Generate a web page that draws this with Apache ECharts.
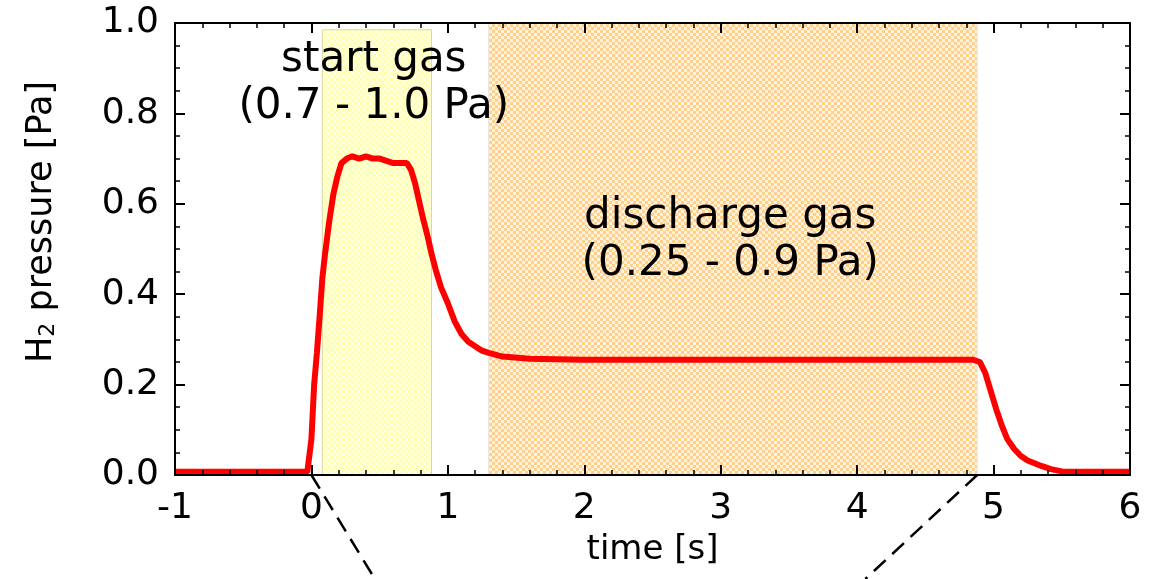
<!DOCTYPE html>
<html>
<head>
<meta charset="utf-8">
<script src="https://cdn.jsdelivr.net/npm/echarts@6/dist/echarts.min.js"></script>
<style>
  html, body { margin: 0; padding: 0; background: #fff; }
  #chart { width: 1166px; height: 579px; }
</style>
</head>
<body>
<div id="chart"></div>
<script>
// H2 pressure trace
var time = [-1.0, -0.8, -0.6, -0.4, -0.2, -0.03, 0.0, 0.02, 0.04, 0.06, 0.08, 0.1, 0.13, 0.16, 0.19, 0.22, 0.26, 0.3, 0.35, 0.4, 0.45, 0.5, 0.55, 0.6, 0.65, 0.7, 0.73, 0.76, 0.79, 0.82, 0.85, 0.88, 0.91, 0.95, 1.0, 1.05, 1.1, 1.15, 1.2, 1.25, 1.3, 1.4, 1.6, 2.0, 2.5, 3.0, 3.5, 4.0, 4.5, 4.85, 4.9, 4.94, 4.98, 5.02, 5.06, 5.1, 5.15, 5.2, 5.25, 5.3, 5.35, 5.42, 5.5, 5.7, 6.0];
var pressure = [0.007, 0.007, 0.007, 0.007, 0.007, 0.007, 0.08, 0.2, 0.27, 0.35, 0.435, 0.49, 0.56, 0.62, 0.66, 0.69, 0.7, 0.705, 0.7, 0.705, 0.7, 0.7, 0.695, 0.69, 0.69, 0.69, 0.675, 0.645, 0.605, 0.565, 0.53, 0.49, 0.455, 0.415, 0.38, 0.34, 0.312, 0.295, 0.285, 0.275, 0.27, 0.262, 0.257, 0.255, 0.255, 0.255, 0.255, 0.255, 0.255, 0.255, 0.25, 0.225, 0.185, 0.145, 0.11, 0.08, 0.058, 0.042, 0.032, 0.026, 0.02, 0.013, 0.008, 0.007, 0.007];

// shaded gas phases [x0, x1, yTop]
var startGas = [0.08, 0.88, 0.985];
var dischargeGas = [1.3, 4.88, 1.0];

// annotation texts [x, y, text]
var notes = [
  [0.457, 0.867, 'start gas\n(0.7 - 1.0 Pa)'],
  [3.07, 0.518, 'discharge gas\n(0.25 - 0.9 Pa)']
];

// zoom guide lines to the panel below
var guideLeft = [[0, 0], [0.465, -0.23]];
var guideRight = [[4.88, 0], [4.06, -0.23]];

var FONT = 'DejaVu Sans';

function checker(c1, c2) {
  var cv = document.createElement('canvas');
  cv.width = 6; cv.height = 6;
  var ctx = cv.getContext('2d');
  ctx.fillStyle = c2;
  ctx.fillRect(0, 0, 6, 6);
  ctx.fillStyle = c1;
  ctx.fillRect(0, 0, 3, 3);
  ctx.fillRect(3, 3, 3, 3);
  return { image: cv, repeat: 'repeat' };
}

var axisCommon = {
  type: 'value',
  z: 10,
  axisLine: { show: true, onZero: false, lineStyle: { color: '#000', width: 2 } },
  axisTick: { show: true, inside: true, length: 10, lineStyle: { color: '#000', width: 2 } },
  minorTick: { show: true, length: 5, lineStyle: { color: '#000', width: 1.5 } },
  splitLine: { show: false }
};

var chart = echarts.init(document.getElementById('chart'));

var option = {
  animation: false,
  grid: { left: 175, right: 36, top: 23, bottom: 104 },
  xAxis: [
    Object.assign({}, axisCommon, {
      min: -1, max: 6, interval: 1,
      minorTick: Object.assign({}, axisCommon.minorTick, { splitNumber: 5 }),
      axisLabel: { color: '#000', fontFamily: FONT, fontSize: 36, margin: 16 },
      name: 'time [s]',
      nameLocation: 'middle',
      nameGap: 58,
      nameTextStyle: { color: '#000', fontFamily: FONT, fontSize: 34 }
    }),
    Object.assign({}, axisCommon, {
      position: 'top',
      min: -1, max: 6, interval: 1,
      minorTick: Object.assign({}, axisCommon.minorTick, { splitNumber: 5 }),
      axisLabel: { show: false }
    })
  ],
  yAxis: [
    Object.assign({}, axisCommon, {
      min: 0, max: 1, interval: 0.2,
      minorTick: Object.assign({}, axisCommon.minorTick, { splitNumber: 4 }),
      axisLabel: {
        color: '#000', fontFamily: FONT, fontSize: 36, margin: 16,
        formatter: function (v) { return v.toFixed(1); }
      },
      name: '{a|H}{b|2}{a| pressure [Pa]}',
      nameLocation: 'middle',
      nameGap: 116,
      nameTextStyle: {
        color: '#000',
        padding: [0, 0, 0, 54],
        rich: {
          a: { fontFamily: FONT, fontSize: 35, color: '#000' },
          b: { fontFamily: FONT, fontSize: 22, color: '#000', verticalAlign: 'bottom' }
        }
      }
    }),
    Object.assign({}, axisCommon, {
      position: 'right',
      min: 0, max: 1, interval: 0.2,
      minorTick: Object.assign({}, axisCommon.minorTick, { splitNumber: 4 }),
      axisLabel: { show: false }
    })
  ],
  series: [
    {
      // shaded phases
      type: 'line',
      z: 1,
      data: [],
      markArea: {
        silent: true,
        data: [
          [
            { coord: [startGas[0], 0], itemStyle: { color: checker('#ffffb4', '#ffffe2'), borderColor: '#d8d8a0', borderWidth: 1 } },
            { coord: [startGas[1], startGas[2]] }
          ],
          [
            { coord: [dischargeGas[0], 0], itemStyle: { color: checker('#ffcf8c', '#fff2de'), borderColor: '#e8e0d8', borderWidth: 1 } },
            { coord: [dischargeGas[1], dischargeGas[2]] }
          ]
        ]
      }
    },
    {
      name: 'H2 pressure',
      type: 'line',
      z: 5,
      showSymbol: false,
      symbol: 'none',
      lineStyle: { color: '#ff0000', width: 6 },
      data: time.map(function (t, i) { return [t, pressure[i]]; })
    },
    {
      type: 'line',
      z: 5,
      clip: false,
      symbol: 'none',
      lineStyle: { color: '#000', width: 2.5, type: [16, 9] },
      data: guideLeft
    },
    {
      type: 'line',
      z: 5,
      clip: false,
      symbol: 'none',
      lineStyle: { color: '#000', width: 2.5, type: [16, 9] },
      data: guideRight
    },
    {
      type: 'scatter',
      z: 6,
      symbolSize: 0.01,
      itemStyle: { color: '#000', opacity: 1 },
      label: {
        show: true,
        position: 'inside',
        color: '#000',
        opacity: 1,
        textBorderWidth: 0,
        fontFamily: FONT,
        fontSize: 42,
        lineHeight: 47,
        align: 'center',
        formatter: function (p) { return p.data[2]; }
      },
      data: notes
    }
  ]
};

chart.setOption(option);
</script>
</body>
</html>
